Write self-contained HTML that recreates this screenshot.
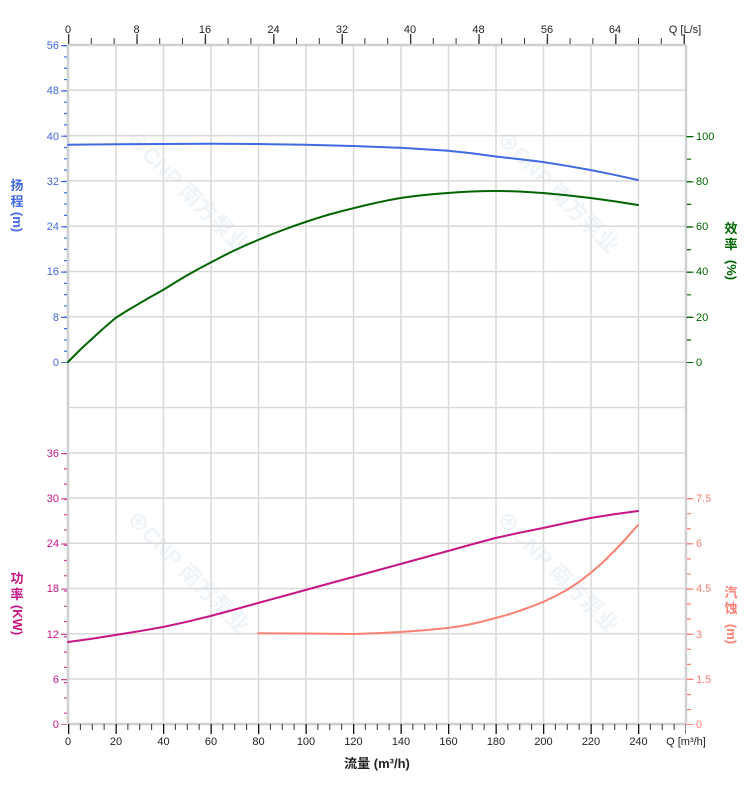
<!DOCTYPE html>
<html><head><meta charset="utf-8"><style>
html,body{margin:0;padding:0;background:#fff;width:752px;height:797px;overflow:hidden}
svg{display:block;font-family:"Liberation Sans","Noto Sans CJK SC",sans-serif}
</style></head><body>
<svg width="752" height="797" viewBox="0 0 752 797" xmlns="http://www.w3.org/2000/svg">
<!-- watermarks -->
<g fill="#e8eff6" font-size="22" font-weight="bold" opacity="0.7">
<text transform="translate(125,140) rotate(45)">⊕CNP 南方泵业</text>
<text transform="translate(495,140) rotate(45)">⊕CNP 南方泵业</text>
<text transform="translate(125,520) rotate(45)">⊕CNP 南方泵业</text>
<text transform="translate(495,520) rotate(45)">⊕CNP 南方泵业</text>
</g>
<!-- grid -->
<g stroke="#d9d9d9" stroke-width="1.5">
<path d="M116,45V724M163.5,45V724M211,45V724M258.5,45V724M306,45V724M353.5,45V724M401,45V724M448.5,45V724M496,45V724M543.5,45V724M591,45V724M638.5,45V724"/>
<path d="M68,90.3H686M68,135.6H686M68,180.9H686M68,226.2H686M68,271.5H686M68,316.8H686M68,362H686M68,407.5H686M68,453H686M68,498H686M68,543.3H686M68,588.5H686M68,633.8H686M68,679H686"/>
</g>
<g stroke="#cfcfcf" stroke-width="2.5"><path d="M68,45H686M68,724H686M686,45V724M68,45V724"/></g>
<!-- top ticks -->
<line x1="68" y1="41" x2="686" y2="41" stroke="#333" stroke-width="6" stroke-dasharray="1 21.8"/>
<line x1="68" y1="39" x2="686" y2="39" stroke="#333" stroke-width="10" stroke-dasharray="1.3 67.1"/>
<!-- bottom ticks -->
<line x1="68" y1="727" x2="686" y2="727" stroke="#333" stroke-width="6" stroke-dasharray="1 10.875"/>
<line x1="68" y1="729" x2="686" y2="729" stroke="#111" stroke-width="10" stroke-dasharray="1.3 46.2"/>
<!-- left ticks head -->
<line x1="65.5" y1="45" x2="65.5" y2="363" stroke="#4169e1" stroke-width="3" stroke-dasharray="1.2 10.12"/>
<line x1="64" y1="45" x2="64" y2="363" stroke="#4169e1" stroke-width="6" stroke-dasharray="1.2 44.1"/>
<!-- left ticks power -->
<line x1="65.5" y1="453" x2="65.5" y2="725" stroke="#d0479a" stroke-width="3" stroke-dasharray="1.2 14.07"/>
<line x1="64" y1="453" x2="64" y2="725" stroke="#d0479a" stroke-width="6" stroke-dasharray="1.2 44"/>
<!-- right ticks eff -->
<line x1="689" y1="136" x2="689" y2="363" stroke="#006400" stroke-width="4" stroke-dasharray="1.2 21.4"/>
<line x1="690" y1="136" x2="690" y2="363" stroke="#006400" stroke-width="7" stroke-dasharray="1.2 44"/>
<!-- right ticks npsh -->
<line x1="689" y1="498" x2="689" y2="725" stroke="#fa8072" stroke-width="4" stroke-dasharray="1.2 13.87"/>
<line x1="690" y1="498" x2="690" y2="725" stroke="#fa8072" stroke-width="7" stroke-dasharray="1.2 44"/>
<!-- curves -->
<g fill="none" stroke-width="2" stroke-linejoin="round" stroke-linecap="round">
<polyline stroke="#4169e1" points="68,144.7 115.5,144.3 163,144 210.5,143.8 258,144 305.5,144.8 353,146 400.5,147.8 448,150.8 471.75,153.2 495.5,156.5 519.25,159.1 543,162 566.75,165.8 590.5,170 614.25,174.8 638,180"/>
<polyline stroke="#006400" points="68,362 79.9,350 91.75,339 103.6,328.3 115.5,318 127.4,310.5 139.25,303.5 151.1,296.6 163,290 174.9,282.6 186.75,275.5 198.6,268.9 210.5,262.6 222.4,256.4 234.25,250.5 246.1,245.1 258,240 269.9,235 281.75,230.5 293.6,226.1 305.5,222 317.4,218.1 329.25,214.5 341.1,211.3 353,208.3 364.9,205.4 376.75,202.7 388.6,200.2 400.5,198 412.4,196.4 424.25,195 436.1,193.9 448,193 459.9,192.1 471.75,191.5 483.6,191.1 495.5,191 507.4,191.1 519.25,191.5 531.1,192.2 543,193 554.9,194.1 566.75,195.3 578.6,196.6 590.5,198 602.4,199.6 614.25,201.3 626.1,203.1 638,205"/>
<polyline stroke="#c71585" points="68,642 91.75,638.7 115.5,635 139.25,631.2 163,627 186.75,621.8 210.5,616 234.25,609.6 258,603 281.75,596.5 305.5,590 329.25,583.5 353,577 376.75,570.5 400.5,564 424.25,557.5 448,551 471.75,544.4 495.5,538 519.25,532.8 543,528 566.75,522.9 590.5,518 614.25,514.3 638,511"/>
<polyline stroke="#fa8072" points="258,633.3 305.5,633.5 353,634 376.75,633.2 400.5,632 424.25,630.3 448,628 459.9,626.2 471.75,624 483.6,621.2 495.5,618 507.4,614.8 519.25,611 531.1,606.7 543,602 554.9,596.3 566.75,590 578.6,582.2 590.5,573 602.4,562.8 614.25,551 626.1,538.5 638,525"/>
</g>
<!-- tick labels -->
<g font-size="11" fill="#4169e1" text-anchor="end">
<text x="59" y="49">56</text><text x="59" y="94">48</text><text x="59" y="140">40</text><text x="59" y="185">32</text><text x="59" y="230">24</text><text x="59" y="275">16</text><text x="59" y="321">8</text><text x="59" y="366">0</text>
</g>
<g font-size="11" fill="#c71585" text-anchor="end">
<text x="59" y="457">36</text><text x="59" y="502">30</text><text x="59" y="547">24</text><text x="59" y="592">18</text><text x="59" y="638">12</text><text x="59" y="683">6</text><text x="59" y="728">0</text>
</g>
<g font-size="11" fill="#006400">
<text x="696" y="140">100</text><text x="696" y="185">80</text><text x="696" y="230">60</text><text x="696" y="275">40</text><text x="696" y="321">20</text><text x="696" y="366">0</text>
</g>
<g font-size="11" fill="#fa8072">
<text x="696" y="502">7.5</text><text x="696" y="547">6</text><text x="696" y="592">4.5</text><text x="696" y="638">3</text><text x="696" y="683">1.5</text><text x="696" y="728">0</text>
</g>
<g font-size="11" fill="#222" text-anchor="middle">
<text x="68" y="33">0</text><text x="136.5" y="33">8</text><text x="205" y="33">16</text><text x="273.5" y="33">24</text><text x="342" y="33">32</text><text x="410" y="33">40</text><text x="478.5" y="33">48</text><text x="547" y="33">56</text><text x="615" y="33">64</text>
<text x="685" y="33">Q [L/s]</text>
<text x="68" y="745">0</text><text x="116" y="745">20</text><text x="163.5" y="745">40</text><text x="211" y="745">60</text><text x="258.5" y="745">80</text><text x="306" y="745">100</text><text x="353.5" y="745">120</text><text x="401" y="745">140</text><text x="448.5" y="745">160</text><text x="496" y="745">180</text><text x="543.5" y="745">200</text><text x="591" y="745">220</text><text x="638.5" y="745">240</text>
<text x="686" y="745">Q [m³/h]</text>
</g>
<text x="377" y="768" font-size="13" font-weight="bold" fill="#222" text-anchor="middle">流量 (m³/h)</text>
<!-- axis titles -->
<g font-size="13" font-weight="bold">
<g fill="#4169e1"><text x="17" y="190" text-anchor="middle">扬</text><text x="17" y="206" text-anchor="middle">程</text><text transform="translate(13,222) rotate(90)" text-anchor="middle">(m)</text></g>
<g fill="#c71585"><text x="17" y="583" text-anchor="middle">功</text><text x="17" y="599" text-anchor="middle">率</text><text transform="translate(13,620) rotate(90)" text-anchor="middle">(KW)</text></g>
<g fill="#006400"><text x="731" y="233" text-anchor="middle">效</text><text x="731" y="249" text-anchor="middle">率</text><text transform="translate(727,270) rotate(90)" text-anchor="middle">(%)</text></g>
<g fill="#fa8072"><text x="731" y="597" text-anchor="middle">汽</text><text x="731" y="613" text-anchor="middle">蚀</text><text transform="translate(727,634) rotate(90)" text-anchor="middle">(m)</text></g>
</g>
</svg>
</body></html>
